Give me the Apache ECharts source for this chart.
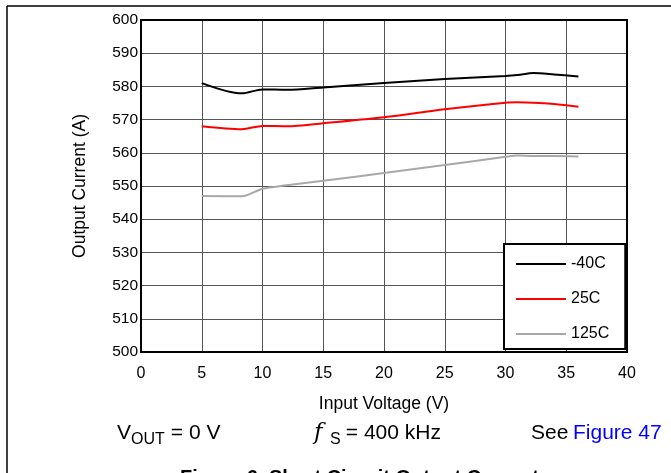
<!DOCTYPE html>
<html>
<head>
<meta charset="utf-8">
<script src="https://cdn.jsdelivr.net/npm/echarts@6/dist/echarts.min.js"></script>
<style>
html,body{margin:0;padding:0;background:#fff;}
#c{width:671px;height:473px;}
</style>
</head>
<body>
<div id="c"></div>
<script>
// Input voltage (V)
var inputVoltage = [5, 8.3, 10, 12, 15, 20, 25, 30, 31, 32.3, 34, 36];
// Output current (A) per temperature
var tempMinus40 = [581, 577.9, 579.1, 579, 579.7, 581, 582.2, 583.1, 583.4, 584, 583.6, 583];
var temp25 = [568, 567.1, 568.1, 568, 568.9, 570.7, 573.1, 575.1, 575.2, 575.1, 574.7, 573.9];
var temp125 = [547, 546.9, 549.2, 550.2, 551.6, 553.9, 556.3, 558.8, 559.2, 559, 559, 558.9];
var seriesNames = ['-40C', '25C', '125C'];
var seriesColors = ['#000000', '#FF0000', '#A8A8A8'];

function pairs(ys) { return inputVoltage.map(function (x, i) { return [x, ys[i]]; }); }
var allY = [tempMinus40, temp25, temp125];

var FONT = '"Liberation Sans", Arial, sans-serif';
var chart = echarts.init(document.getElementById('c'), null, {renderer: 'canvas'});
chart.setOption({
  backgroundColor: '#ffffff',
  animation: false,
  grid: {left: 141, top: 20, width: 486, height: 332, show: true,
         borderColor: '#000', borderWidth: 2, backgroundColor: 'transparent', z: 3},
  xAxis: {
    type: 'value', min: 0, max: 40, interval: 5,
    name: 'Input Voltage (V)', nameLocation: 'middle', nameGap: 43,
    nameTextStyle: {fontFamily: FONT, fontSize: 17.5, color: '#000'},
    axisLine: {show: false}, axisTick: {show: false},
    axisLabel: {fontFamily: FONT, fontSize: 16, color: '#000', margin: 14},
    splitLine: {show: true, lineStyle: {color: '#555', width: 1}}
  },
  yAxis: {
    type: 'value', min: 500, max: 600, interval: 10,
    name: 'Output Current (A)', nameLocation: 'middle', nameGap: 52,
    nameTextStyle: {fontFamily: FONT, fontSize: 17.5, color: '#000'},
    axisLine: {show: false}, axisTick: {show: false},
    axisLabel: {fontFamily: FONT, fontSize: 15.5, color: '#000', margin: 3},
    splitLine: {show: true, lineStyle: {color: '#555', width: 1}}
  },
  legend: {
    orient: 'vertical', left: 504, top: 244,
    backgroundColor: '#fff', borderColor: '#000', borderWidth: 2,
    padding: [12, 16, 7, 12], itemWidth: 50, itemHeight: 2, itemGap: 19,
    icon: 'rect', z: 10,
    textStyle: {fontFamily: FONT, fontSize: 16, color: '#000'},
    data: seriesNames
  },
  series: seriesNames.map(function (n, i) {
    return {
      name: n, type: 'line', data: pairs(allY[i]), smooth: 0.3,
      showSymbol: false, symbol: 'none', z: 5,
      lineStyle: {color: seriesColors[i], width: 2},
      itemStyle: {color: seriesColors[i]}
    };
  }),
  graphic: [
    {type: 'line', shape: {x1: 7, y1: 6, x2: 671, y2: 6}, style: {stroke: '#000', lineWidth: 1.5}},
    {type: 'line', shape: {x1: 7, y1: 6, x2: 7, y2: 473}, style: {stroke: '#000', lineWidth: 1.5}},
    {type: 'text', left: 117, top: 423, style: {text: 'V', font: '21px ' + FONT, fill: '#000'}},
    {type: 'text', left: 131, top: 432, style: {text: 'OUT', font: '16px ' + FONT, fill: '#000'}},
    {type: 'text', left: 165, top: 423, style: {text: ' = 0 V', font: '21px ' + FONT, fill: '#000'}},
    {type: 'text', left: 314, top: 422, style: {text: 'f', font: 'italic 23px "DejaVu Serif", serif', fill: '#000'}},
    {type: 'text', left: 330, top: 432, style: {text: 'S', font: '16px ' + FONT, fill: '#000'}},
    {type: 'text', left: 340, top: 423, style: {text: ' = 400 kHz', font: '21px ' + FONT, fill: '#000'}},
    {type: 'text', left: 531, top: 423, style: {text: 'See ', font: '21px ' + FONT, fill: '#000'}},
    {type: 'text', left: 573, top: 423, style: {text: 'Figure 47', font: '21px ' + FONT, fill: '#0000FF'}},
    {type: 'text', left: 180, top: 468, style: {text: 'Figure 6. Short Circuit Output Current', font: 'bold 20px ' + FONT, fill: '#000'}}
  ]
});
</script>
</body>
</html>
